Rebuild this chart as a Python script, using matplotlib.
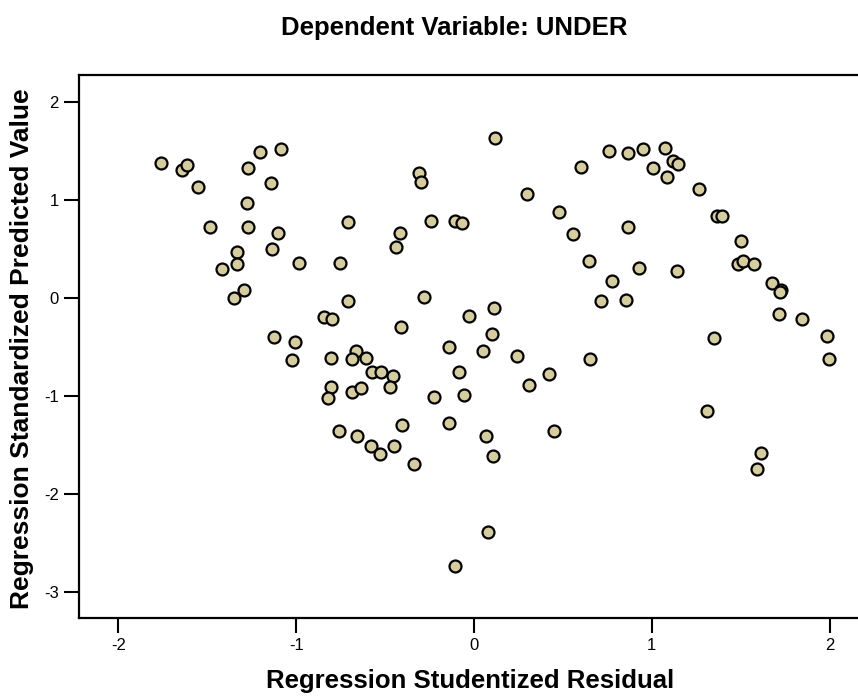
import numpy as np
import matplotlib
matplotlib.use("Agg")
import matplotlib.pyplot as plt

plt.rcParams['font.family'] = ['Liberation Sans', 'DejaVu Sans']
plt.rcParams['axes.unicode_minus'] = False

# studentized residual / standardized predicted value
resid = [
    -1.763, -1.644, -1.612, -1.554, -1.488, -1.419, -1.331, -1.331, -1.348, -1.294,
    -1.277, -1.269, -1.269, -1.204, -1.087, -1.142, -1.101, -1.134, -0.986, -1.125,
    -1.009, -1.022,
    0.118, -0.307, -0.298, 0.296, 0.600, -0.710, -0.416, -0.439, -0.242, -0.107,
    -0.066, 0.480, 0.555, -0.752, -0.710, -0.281, -0.844, -0.800, -0.028, 0.112,
    -0.411, 0.099,
    0.761, 0.864, 0.949, 1.074, 1.009, 1.121, 1.146, 1.084, 1.267, 1.365,
    1.393, 1.502, 1.487, 1.515, 1.575, 1.674, 1.727, 1.720, 1.714, 1.845,
    1.985, 1.348, 0.868, 0.647, 0.928, 1.140, 0.778, 0.714, 0.853,
    -0.806, -0.664, -0.688, -0.607, -0.575, -0.525, -0.457, -0.806, -0.819, -0.688,
    -0.636, -0.472, -0.139, 0.049, 0.240, -0.083, 0.422, 0.311, -0.225, -0.058,
    -0.758, -0.656, -0.579, -0.529, -0.450, -0.405, -0.339, -0.139, 0.066, 0.109,
    0.448, 0.077, -0.109,
    0.654, 1.997, 1.310, 1.616, 1.592,
]
pred = [
    1.373, 1.304, 1.355, 1.134, 0.719, 0.290, 0.470, 0.344, -0.006, 0.079,
    0.964, 0.719, 1.328, 1.488, 1.516, 1.168, 0.658, 0.497, 0.351, -0.405,
    -0.449, -0.636,
    1.634, 1.271, 1.178, 1.056, 1.338, 0.776, 0.664, 0.518, 0.787, 0.783,
    0.766, 0.879, 0.651, 0.351, -0.030, 0.010, -0.194, -0.214, -0.187, -0.109,
    -0.296, -0.366,
    1.498, 1.475, 1.516, 1.526, 1.322, 1.396, 1.362, 1.236, 1.113, 0.838,
    0.835, 0.579, 0.341, 0.375, 0.341, 0.153, 0.079, 0.060, -0.170, -0.221,
    -0.391, -0.408, 0.725, 0.378, 0.300, 0.273, 0.171, -0.030, -0.023,
    -0.613, -0.544, -0.629, -0.613, -0.762, -0.762, -0.797, -0.909, -1.021, -0.960,
    -0.926, -0.915, -0.500, -0.544, -0.596, -0.762, -0.776, -0.892, -1.014, -0.997,
    -1.358, -1.409, -1.515, -1.600, -1.511, -1.300, -1.702, -1.283, -1.409, -1.617,
    -1.358, -2.390, -2.741,
    -0.630, -0.626, -1.154, -1.583, -1.747,
]

xticks = [-2, -1, 0, 1, 2]
yticks = [-3, -2, -1, 0, 1, 2]

fig = plt.figure(figsize=(8.58, 6.98), dpi=100)
ax = fig.add_axes([0.0921, 0.1146, 0.9079, 0.778])

ax.plot(resid, pred, 'o', markersize=8.6, markerfacecolor='#d5cd9d',
        markeredgecolor='black', markeredgewidth=1.6, linestyle='none')

ax.set_xlim(-2.222, 2.16)
ax.set_ylim(-3.27, 2.275)
ax.set_xticks(xticks)
ax.set_yticks(yticks)
ax.tick_params(direction='out', length=10.5, width=1.5, labelsize=12, pad=4)

ax.spines['right'].set_visible(False)
for s in ['left', 'top', 'bottom']:
    ax.spines[s].set_linewidth(1.6)

# labels placed in figure coordinates
fig.text(0.548, 0.0143, 'Regression Studentized Residual', fontsize=18.5,
         fontweight='bold', ha='center', va='baseline')
fig.text(0.0256, 0.5, 'Regression Standardized Predicted Value', fontsize=19,
         fontweight='bold', ha='center', va='center', rotation=90)
fig.text(0.530, 0.9499, 'Dependent Variable: UNDER', fontsize=18.5, fontweight='bold',
         ha='center', va='baseline')

fig.savefig('out.png', dpi=100)
